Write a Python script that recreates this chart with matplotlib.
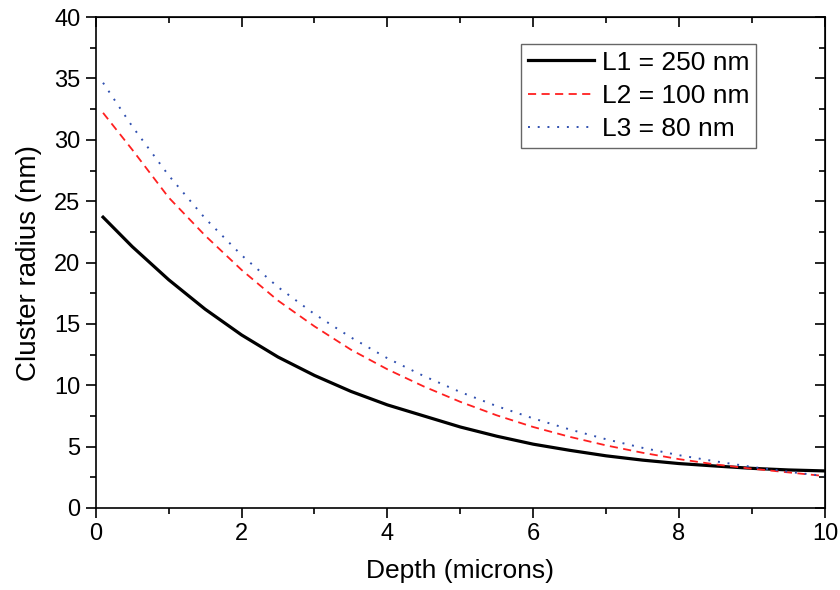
import matplotlib
matplotlib.use("Agg")
import matplotlib.pyplot as plt
from matplotlib.ticker import MultipleLocator

plt.rcParams['font.family'] = ['Liberation Sans', 'DejaVu Sans']

# depth (microns)
depth = [0.1, 0.5, 1.0, 1.5, 2.0, 2.5, 3.0, 3.5, 4.0, 4.5, 5.0,
         5.5, 6.0, 6.5, 7.0, 7.5, 8.0, 8.5, 9.0, 9.5, 10.0]

# cluster radius (nm)
l1 = [23.7, 21.3, 18.6, 16.2, 14.1, 12.3, 10.8, 9.5, 8.4, 7.5, 6.6,
      5.85, 5.2, 4.7, 4.25, 3.9, 3.62, 3.42, 3.23, 3.1, 3.02]
l2 = [32.2, 29.2, 25.3, 22.2, 19.4, 16.9, 14.8, 12.9, 11.3, 9.9, 8.65,
      7.55, 6.6, 5.8, 5.1, 4.5, 3.98, 3.55, 3.2, 2.9, 2.6]
l3 = [34.65, 31.1, 27.1, 23.6, 20.6, 18.0, 15.8, 13.9, 12.2, 10.75, 9.45,
      8.3, 7.3, 6.4, 5.6, 4.9, 4.3, 3.8, 3.35, 2.95, 2.6]

labels = ["L1 = 250 nm", "L2 = 100 nm", "L3 = 80 nm"]

fig = plt.figure(figsize=(8.4, 5.9), dpi=100)
ax = fig.add_axes([0.114, 0.139, 0.868, 0.832])

ax.plot(depth, l1, color="black", lw=2.3, label=labels[0])
ax.plot(depth, l2, color="#ff2020", lw=1.3, dashes=(4.5, 3), label=labels[1])
ax.plot(depth, l3, color="#3050b0", lw=1.4, dashes=(1, 4), label=labels[2])

ax.set_xlim(0, 10)
ax.set_ylim(0, 40)
ax.xaxis.set_major_locator(MultipleLocator(2))
ax.xaxis.set_minor_locator(MultipleLocator(1))
ax.yaxis.set_major_locator(MultipleLocator(5))
ax.yaxis.set_minor_locator(MultipleLocator(2.5))

for s in ax.spines.values():
    s.set_linewidth(1.2)

ax.tick_params(which="major", direction="out", length=7, width=1.2,
               labelsize=17, pad=4)
ax.tick_params(which="minor", direction="out", length=4, width=1.2)

# mirrored ticks pointing inward on top and right
top = ax.secondary_xaxis("top")
top.xaxis.set_major_locator(MultipleLocator(2))
top.xaxis.set_minor_locator(MultipleLocator(1))
top.tick_params(which="major", direction="in", length=7, width=1.2, labeltop=False)
top.tick_params(which="minor", direction="in", length=4, width=1.2)
right = ax.secondary_yaxis("right")
right.yaxis.set_major_locator(MultipleLocator(5))
right.yaxis.set_minor_locator(MultipleLocator(2.5))
right.tick_params(which="major", direction="in", length=7, width=1.2, labelright=False)
right.tick_params(which="minor", direction="in", length=4, width=1.2)

ax.set_xlabel("Depth (microns)", fontsize=19, labelpad=10)
ax.set_ylabel("Cluster radius (nm)", fontsize=20, labelpad=9)

leg = ax.legend(loc="upper right", bbox_to_anchor=(0.905, 0.945), fontsize=19,
                frameon=True, fancybox=False, handlelength=2.5,
                borderaxespad=0, borderpad=0.25, labelspacing=0.35,
                handletextpad=0.3)
leg.get_frame().set_edgecolor("#404040")
leg.get_frame().set_linewidth(1.0)

fig.savefig("out.png", dpi=100)
